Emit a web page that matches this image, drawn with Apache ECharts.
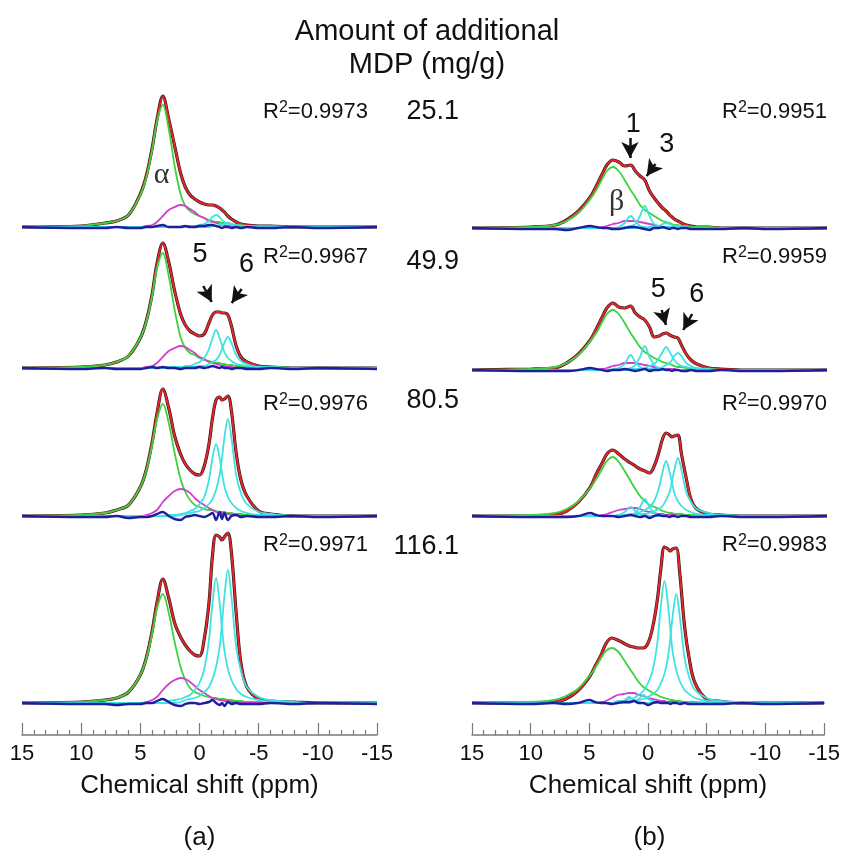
<!DOCTYPE html>
<html>
<head>
<meta charset="utf-8">
<script src="https://cdn.jsdelivr.net/npm/echarts@6/dist/echarts.min.js"></script>
<style>
  html, body { margin: 0; background: #fff; }
  #chart { width: 843px; height: 855px; }
</style>
</head>
<body>
<div id="chart"></div>
<script>
// chemical shift sampling points (ppm)
const ppm = [15, 10, 8, 7, 6, 5, 4.5, 4, 3.6, 3.1, 2.6, 2.1, 1.6, 1.2, 0.8, 0.4, 0, -0.4, -0.8, -1.1, -1.4, -1.7, -1.9, -2.1, -2.4, -2.7, -3.1, -3.5, -4, -5, -6, -8, -10, -15];
const xTicks = [15, 10, 5, 0, -5, -10, -15];
const loadings = ['25.1', '49.9', '80.5', '116.1'];
const r2A = ['0.9973', '0.9967', '0.9976', '0.9971'];
const r2B = ['0.9951', '0.9959', '0.9970', '0.9983'];

// panel (a): measured / fitted spectra, one row per loading
const measA = [
  [0,1,4,6,12,33,51,79,107,131,108,81,54,40,32,28,25,23,22,22,21,19,17,15,11,8,5,3,2,1,1,0,0,0],
  [0,1,3,6,12,30,47,74,104,125,106,77,54,43,37,34,32,34,45,53,56,56,55,55,53,42,22,11,6,2,1,0,0,0],
  [0,1,3,6,11,29,46,74,102,127,108,80,62,52,46,42,41,50,72,98,116,119,116,117,120,105,63,36,20,5,2,0,0,0],
  [0,1,3,5,11,28,45,72,100,124,105,80,66,58,52,48,47,64,100,148,168,166,163,166,170,150,90,40,16,4,2,1,0,0]
];
const greenA = [
  [0,1,4,6,12,32,49,77,105,122,98,61,33,21,16,13,11,9,7,6,5,5,4,4,4,3,2,2,1,1,1,0,0,0],
  [0,1,3,6,12,30,46,72,99,115,92,58,31,20,15,13,10,8,7,6,5,5,4,4,3,3,2,2,1,1,1,0,0,0],
  [0,1,3,6,11,29,45,71,96,112,93,63,37,24,16,11,9,7,6,6,5,4,4,4,3,3,2,2,1,1,1,0,0,0],
  [0,1,3,5,11,28,44,69,94,109,90,61,36,23,15,11,9,7,6,5,5,4,4,4,3,3,2,2,1,1,1,0,0,0]
];
const magentaA = [
  [0,0,0,0,0,0,1,2,5,11,17,20,22,21,18,15,11,9,6,5,4,3,2,2,1,1,0,0,0,0,0,0,0,0],
  [0,0,0,0,0,0,1,2,5,11,17,20,22,21,18,15,11,9,6,5,4,3,2,2,1,1,0,0,0,0,0,0,0,0],
  [0,0,0,0,0,0,1,3,6,14,20,25,27,26,23,18,14,11,8,6,4,3,3,2,2,1,1,0,0,0,0,0,0,0],
  [0,0,0,0,0,0,1,3,6,13,19,23,25,24,21,17,13,10,7,5,4,3,3,2,2,1,1,0,0,0,0,0,0,0]
];
const cyan1A = [
  [0,0,0,0,0,0,0,0,0,0,0,0,0,1,1,1,2,3,6,10,12,10,7,5,3,2,1,1,1,0,0,0,0,0],
  [0,0,0,0,0,0,0,0,0,0,1,1,1,2,2,4,6,10,19,30,38,30,23,16,10,7,4,3,2,1,0,0,0,0],
  [0,0,0,0,0,0,0,0,0,0,1,1,2,3,5,7,12,19,36,58,72,58,43,30,19,13,8,5,3,1,1,0,0,0],
  [0,0,0,0,0,0,0,0,0,0,2,3,4,6,8,13,20,34,63,100,125,100,75,53,34,23,14,9,6,3,1,0,0,0]
];
const cyan2A = [
  [0,0,0,0,0,0,0,0,0,0,0,0,0,0,0,0,0,0,0,1,1,2,2,3,4,3,2,1,0,0,0,0,0,0],
  [0,0,0,0,0,0,0,0,0,0,0,0,0,1,1,1,2,2,4,6,8,13,19,25,31,25,13,7,4,1,1,0,0,0],
  [0,0,0,0,0,0,0,0,0,0,0,0,1,2,3,4,5,8,12,17,26,41,58,78,97,78,41,23,12,4,2,0,0,0],
  [0,0,0,0,0,0,0,0,0,0,0,0,1,3,4,5,7,11,16,24,36,56,80,106,133,106,56,32,16,6,3,1,0,0]
];
const residA = [
  [0,-1,-1,0,-1,-1,0,0,1,2,0,0,0,1,0,0,1,1,2,2,1,0,-1,0,0,-1,0,-1,0,-1,-1,0,-1,0],
  [0,-1,0,-1,-1,-1,0,1,0,1,0,0,-1,0,0,0,1,0,1,2,1,0,1,0,0,-1,0,0,-1,-1,0,-1,0,-1],
  [0,-1,-1,0,-2,-1,-1,0,2,4,0,-3,-4,-1,0,1,0,-1,1,3,-4,4,-3,3,-4,0,1,-1,0,-1,-1,0,-1,0],
  [0,-1,-1,-2,-1,-1,0,0,2,4,1,-2,-3,-1,0,0,-1,0,1,3,0,-2,0,-3,1,-1,0,-1,-1,-1,0,-1,0,-1]
];

// panel (b)
const measB = [
  [0,1,3,8,17,31,42,54,63,68,66,62,63,57,52,48,37,30,24,20,17,13,11,9,7,5,3,2,1,1,0,0,0,0],
  [0,1,2,7,16,30,41,53,62,67,63,62,64,57,53,50,43,33,34,36,37,35,34,33,32,25,16,10,6,2,1,0,0,0],
  [0,0,1,5,14,29,42,53,62,66,62,57,53,50,47,45,43,50,64,77,83,81,79,80,81,62,38,17,7,2,1,0,0,0],
  [0,0,1,4,12,26,37,48,59,65,63,60,57,56,55,55,60,76,104,135,156,154,152,154,155,130,78,45,20,4,2,0,0,0]
];
const greenB = [
  [0,1,3,7,15,29,38,49,57,61,57,48,38,31,23,18,15,12,9,7,6,5,4,3,3,2,2,1,1,1,0,0,0,0],
  [0,1,3,7,15,29,37,48,56,60,56,47,37,30,23,18,15,12,10,8,7,6,5,4,3,3,2,1,1,1,0,0,0,0],
  [0,1,3,7,15,28,37,47,55,59,54,45,35,27,20,15,11,9,7,5,4,3,3,2,2,2,1,1,1,0,0,0,0,0],
  [0,1,3,7,14,27,35,45,52,55,52,44,35,28,21,16,13,10,8,6,5,4,3,3,2,2,1,1,1,0,0,0,0,0]
];
const magentaB = [
  [0,0,0,0,0,0,0,1,2,4,5,7,7,7,6,5,4,3,2,1,1,1,1,1,0,0,0,0,0,0,0,0,0,0],
  [0,0,0,0,0,0,0,1,2,4,5,7,7,7,6,5,4,3,2,1,1,1,1,1,0,0,0,0,0,0,0,0,0,0],
  [0,0,0,0,0,0,0,1,2,4,6,7,8,8,7,5,4,3,2,2,1,1,1,1,0,0,0,0,0,0,0,0,0,0],
  [0,0,0,0,0,0,0,1,2,5,8,9,10,10,8,7,5,4,3,2,2,1,1,1,1,0,0,0,0,0,0,0,0,0]
];
const cyan1B = [
  [0,0,0,0,0,0,0,0,0,0,0,0,0,0,0,0,1,1,2,4,5,4,3,2,1,1,1,0,0,0,0,0,0,0],
  [0,0,0,0,0,0,0,0,0,0,0,0,1,1,1,2,4,6,12,18,23,18,14,10,6,4,3,2,1,0,0,0,0,0],
  [0,0,0,0,0,0,0,0,0,0,1,1,2,2,4,6,9,15,28,44,55,44,33,23,15,10,6,4,2,1,1,0,0,0],
  [0,0,0,0,0,0,0,0,0,0,2,2,4,5,8,12,20,33,61,98,122,98,73,51,33,22,13,9,5,2,1,0,0,0]
];
const cyan2B = [
  [0,0,0,0,0,0,0,0,0,0,0,0,0,0,0,0,0,0,0,0,1,1,1,2,2,2,1,0,0,0,0,0,0,0],
  [0,0,0,0,0,0,0,0,0,0,0,0,0,0,1,1,1,1,2,3,5,7,10,14,17,14,7,4,2,1,0,0,0,0],
  [0,0,0,0,0,0,0,0,0,0,0,0,1,1,2,2,3,5,7,10,16,24,35,46,58,46,24,14,7,3,1,0,0,0],
  [0,0,0,0,0,0,0,0,0,0,0,0,1,2,3,4,6,9,13,20,29,46,65,87,109,87,46,26,13,5,2,1,0,0]
];
const cyan3B = [
  [0,0,0,0,0,0,0,0,0,0,1,5,12,7,2,1,0,0,0,0,0,0,0,0,0,0,0,0,0,0,0,0,0,0],
  [0,0,0,0,0,0,0,0,0,1,2,6,15,8,3,1,1,0,0,0,0,0,0,0,0,0,0,0,0,0,0,0,0,0],
  [0,0,0,0,0,0,0,0,0,0,1,4,9,5,2,1,0,0,0,0,0,0,0,0,0,0,0,0,0,0,0,0,0,0],
  [0,0,0,0,0,0,0,0,0,0,0,2,6,3,1,0,0,0,0,0,0,0,0,0,0,0,0,0,0,0,0,0,0,0]
];
const cyan4B = [
  [0,0,0,0,0,0,0,0,0,0,0,1,2,4,12,22,12,4,2,1,0,0,0,0,0,0,0,0,0,0,0,0,0,0],
  [0,0,0,0,0,0,0,0,0,0,0,1,2,5,13,24,13,5,2,1,0,0,0,0,0,0,0,0,0,0,0,0,0,0],
  [0,0,0,0,0,0,0,0,0,0,0,0,1,3,9,17,9,3,1,1,0,0,0,0,0,0,0,0,0,0,0,0,0,0],
  [0,0,0,0,0,0,0,0,0,0,0,0,0,2,4,8,4,2,1,0,0,0,0,0,0,0,0,0,0,0,0,0,0,0]
];
const residB = [
  [0,-1,-1,-2,0,2,1,0,0,-1,-1,0,1,1,0,-1,-2,0,0,1,0,-1,0,0,-1,0,0,-1,-1,-1,-1,0,-1,0],
  [0,-1,-1,-1,0,2,1,0,-1,0,0,1,0,-1,0,1,-1,0,0,1,0,0,-1,0,0,-1,-1,0,-1,-1,0,-1,-1,0],
  [0,-1,-1,-1,0,3,1,0,0,0,-1,0,1,0,-1,0,-2,0,1,0,0,-1,0,0,-1,0,0,-1,-1,-1,0,-1,-1,0],
  [0,-1,0,-1,0,3,1,0,0,-1,0,1,1,2,0,0,-2,0,1,0,0,0,-1,0,0,-1,0,-1,-1,-1,-1,0,-1,0]
];

// peak labels and arrows, in (ppm, intensity) of their row
const notesA = [
  { row: 0, text: 'α', at: [3.2, 52], serif: true },
  { row: 1, text: '5', at: [-0.04, 113] },
  { row: 1, text: '6', at: [-3.98, 103] }
];
const arrowsA = [
  { row: 1, from: [-0.32, 82], to: [-1.03, 66] },
  { row: 1, from: [-3.56, 79], to: [-2.72, 65] }
];
const notesB = [
  { row: 0, text: 'β', at: [2.77, 26], serif: true },
  { row: 0, text: '1', at: [1.37, 103] },
  { row: 0, text: '3', at: [-1.45, 83] },
  { row: 1, text: '5', at: [-0.74, 80] },
  { row: 1, text: '6', at: [-4.0, 75] }
];
const arrowsB = [
  { row: 0, from: [1.65, 90], to: [1.65, 70] },
  { row: 0, from: [-0.5, 64], to: [0.24, 52] },
  { row: 1, from: [-1.03, 60], to: [-1.39, 45] },
  { row: 1, from: [-3.6, 56], to: [-2.85, 40] }
];

const FONT = 'Liberation Sans, Arial, sans-serif';
const RED = '#e3262c', BLACK = '#2a1a1a', GREEN = '#3dd23d', MAGENTA = '#d03fd0', CYAN = '#3fe2e2', BLUE = '#1f1f9c';

const panels = [
  { left: 22, base: [227, 368, 516, 703], meas: measA, green: greenA, magenta: magentaA,
    cyans: [cyan1A, cyan2A], resid: residA, notes: notesA, arrows: arrowsA, r2: r2A, r2x: 368, tag: '(a)' },
  { left: 472, base: [228, 370, 516, 703], meas: measB, green: greenB, magenta: magentaB,
    cyans: [cyan1B, cyan2B, cyan3B, cyan4B], resid: residB, notes: notesB, arrows: arrowsB, r2: r2B, r2x: 827, tag: '(b)' }
];
const rowY = [112, 257, 404, 545];
const PLOT_W = 355, TOP_PAD = 190;

const grids = [], xAxes = [], yAxes = [], series = [];

function line(idx, values, color, width, z, extra) {
  return Object.assign({
    type: 'line',
    xAxisIndex: idx,
    yAxisIndex: idx,
    data: ppm.map((x, i) => [x, values[i]]),
    showSymbol: false,
    smooth: 0.35,
    silent: true,
    z: z,
    lineStyle: { color: color, width: width },
    itemStyle: { color: color }
  }, extra || {});
}

panels.forEach((p, pi) => {
  for (let r = 0; r < 4; r++) {
    const idx = pi * 4 + r;
    const last = r === 3;
    const bottomPad = last ? 32 : 10;
    grids.push({ left: p.left, width: PLOT_W, top: p.base[r] - TOP_PAD, height: TOP_PAD + bottomPad });
    yAxes.push({ gridIndex: idx, type: 'value', min: -bottomPad, max: TOP_PAD, show: false });
    xAxes.push({
      gridIndex: idx, type: 'value', inverse: true,
      min: Math.min(...xTicks), max: Math.max(...xTicks), interval: 5,
      show: last,
      axisLine: { onZero: false, lineStyle: { color: '#7a7a7a', width: 1.5 } },
      axisTick: { inside: true, length: 12, lineStyle: { color: '#7a7a7a', width: 1.2 } },
      minorTick: { show: true, splitNumber: 5, length: 5, lineStyle: { color: '#7a7a7a', width: 1.2 } },
      splitLine: { show: false },
      axisLabel: { fontSize: 22, color: '#111', margin: 8, fontFamily: FONT },
      name: 'Chemical shift (ppm)', nameLocation: 'middle', nameGap: 38,
      nameTextStyle: { fontSize: 26, color: '#111', fontFamily: FONT }
    });

    const notes = p.notes.filter(n => n.row === r);
    const arrows = p.arrows.filter(a => a.row === r);

    series.push(line(idx, p.meas[r], BLACK, 3.2, 2));
    series.push(line(idx, p.meas[r], RED, 2, 3, {
      markPoint: notes.length ? {
        silent: true, symbol: 'circle', symbolSize: 1,
        itemStyle: { color: 'rgba(0,0,0,0)' },
        label: { show: true, position: 'inside', formatter: '{b}', color: '#111' },
        data: notes.map(n => ({
          name: n.text, coord: n.at,
          label: n.serif
            ? { fontSize: 30, color: '#333', fontFamily: 'Liberation Serif, serif' }
            : { fontSize: 27, fontFamily: FONT }
        }))
      } : undefined,
      markLine: arrows.length ? {
        silent: true, symbol: ['none', 'arrow'], symbolSize: [13, 16],
        lineStyle: { color: '#111', width: 2.5, type: 'solid' },
        label: { show: false },
        data: arrows.map(a => [{ coord: a.from }, { coord: a.to }])
      } : undefined
    }));
    series.push(line(idx, p.green[r], GREEN, 1.8, 4));
    series.push(line(idx, p.magenta[r], MAGENTA, 1.8, 4));
    p.cyans.forEach(c => series.push(line(idx, c[r], CYAN, 1.8, 4)));
    series.push(line(idx, p.resid[r], BLUE, 2.4, 5));
  }
});

const graphic = [
  { type: 'text', x: 427, y: 32, style: { text: 'Amount of additional', fontSize: 29, fontFamily: FONT, fill: '#111', align: 'center', verticalAlign: 'middle' } },
  { type: 'text', x: 427, y: 65, style: { text: 'MDP (mg/g)', fontSize: 29, fontFamily: FONT, fill: '#111', align: 'center', verticalAlign: 'middle' } }
];
loadings.forEach((t, r) => {
  graphic.push({ type: 'text', x: 459, y: [112, 262, 401, 547][r],
    style: { text: t, fontSize: 27, fontFamily: FONT, fill: '#111', align: 'right', verticalAlign: 'middle' } });
});
panels.forEach(p => {
  p.r2.forEach((v, r) => {
    graphic.push({ type: 'text', x: p.r2x, y: rowY[r],
      style: {
        text: '{r|R}{s|2}{r|=' + v + '}',
        align: 'right', verticalAlign: 'middle', fill: '#111',
        rich: {
          r: { fontSize: 22, lineHeight: 24, fontFamily: FONT, fill: '#111' },
          s: { fontSize: 16, lineHeight: 15, fontFamily: FONT, fill: '#111', verticalAlign: 'top' }
        }
      } });
  });
  graphic.push({ type: 'text', x: p.left + PLOT_W / 2, y: 838,
    style: { text: p.tag, fontSize: 26, fontFamily: FONT, fill: '#111', align: 'center', verticalAlign: 'middle' } });
});

const chart = echarts.init(document.getElementById('chart'));
chart.setOption({
  animation: false,
  backgroundColor: '#fff',
  textStyle: { fontFamily: FONT },
  grid: grids,
  xAxis: xAxes,
  yAxis: yAxes,
  series: series,
  graphic: graphic
});
</script>
</body>
</html>
